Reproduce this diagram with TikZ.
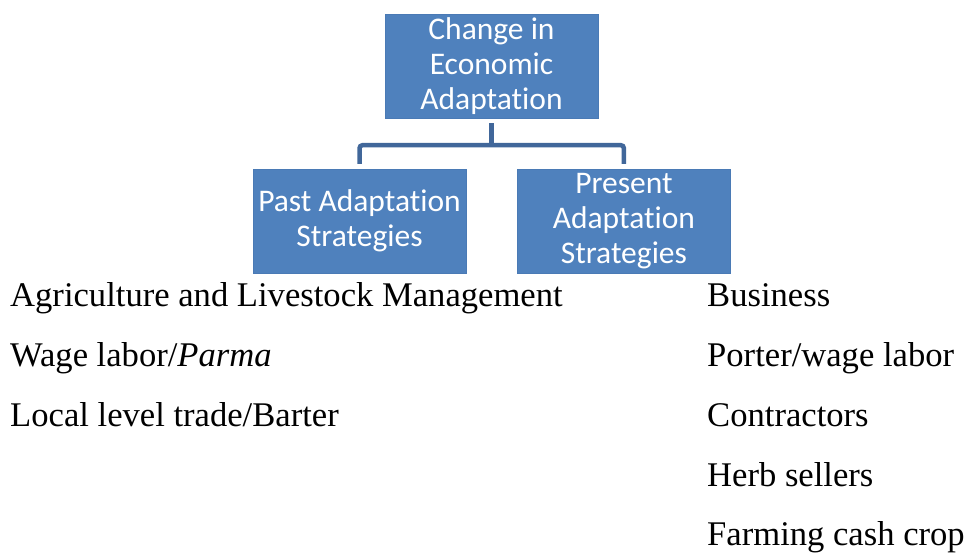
\documentclass[tikz,border=0pt]{standalone}
\usepackage{fontspec}
\setmainfont{Liberation Serif}
\setsansfont{Carlito}[Ligatures=NoCommon]
\usepackage{xcolor}
\usetikzlibrary{positioning}

\definecolor{boxblue}{HTML}{4F81BD}
\definecolor{boxedge}{HTML}{4A7AB5}
\definecolor{linkblue}{HTML}{41679A}

\begin{document}
\begin{tikzpicture}[x=1pt, y=-1pt, font=\sffamily,
	box/.style={draw=boxedge, fill=boxblue, text=white, minimum width=213pt, minimum height=104pt, inner sep=0pt, align=center, font=\sffamily\fontsize{31.5}{35}\selectfont},
	link/.style={draw=linkblue, line width=4.5pt, rounded corners=3pt},
	item/.style={anchor=base west, inner sep=0pt, font=\rmfamily\fontsize{34.6}{40}\selectfont}]
	\useasboundingbox (0,0) rectangle (971,554);
	\node[box] (change) at (491.5,66) {Change in\\Economic\\Adaptation};
	\node[box] (past) at (359.5,221) {Past Adaptation\\Strategies};
	\node[box, right=51pt of past] (present) {Present\\Adaptation\\Strategies};
	\coordinate[below=27pt of change.south] (fork);
	\draw[link] ([yshift=-5pt]change.south) -- (fork);
	\draw[link] ([yshift=5pt]past.north) |- (fork) -| ([yshift=5pt]present.north);
	% past strategies
	\node[item] (farm) at (10,306) {Agriculture and Livestock Management};
	\node[item] (wage) at (10,366) {Wage labor/\textit{Parma}};
	\node[item] (trade) at (10,426) {Local level trade/Barter};
	% present strategies
	\node[item] (biz) at (707,306) {Business};
	\node[item] (porter) at (707,366) {Porter/wage labor};
	\node[item] (contract) at (707,426) {Contractors};
	\node[item] (herb) at (707,486) {Herb sellers};
	\node[item] (cash) at (707,545) {Farming cash crop};
\end{tikzpicture}
\end{document}
